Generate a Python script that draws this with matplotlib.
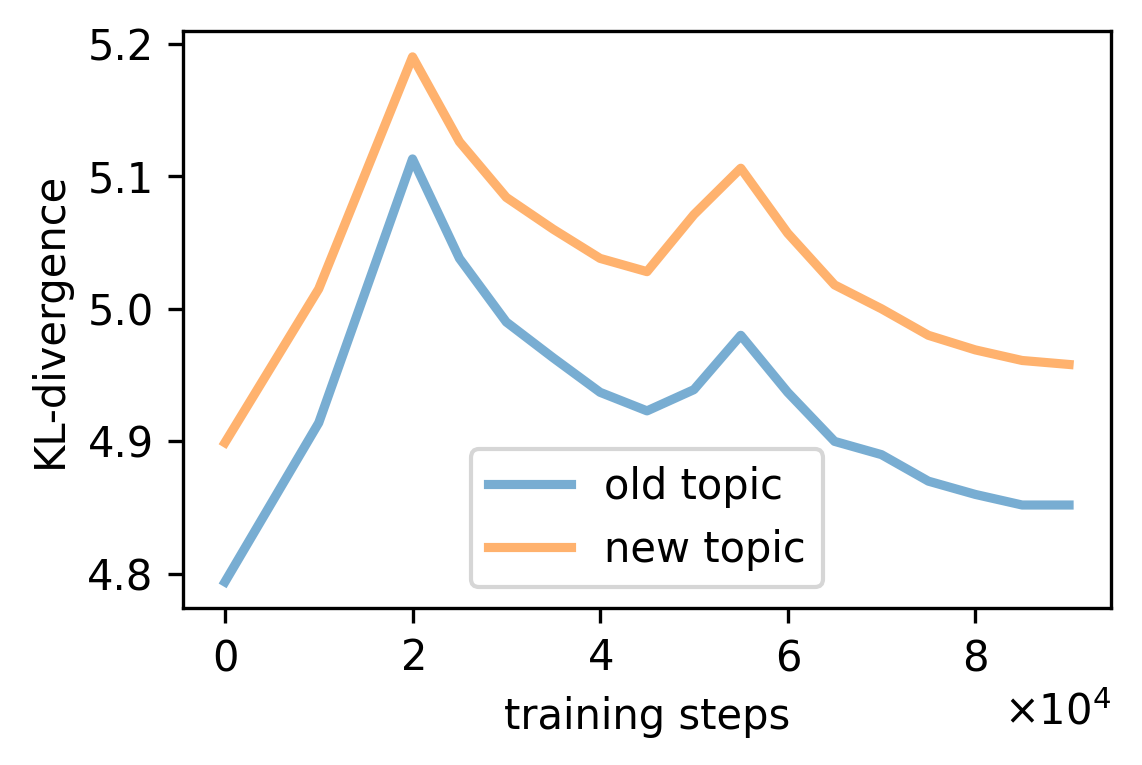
import matplotlib
matplotlib.use("Agg")
import matplotlib.pyplot as plt
import matplotlib.ticker as mticker

steps = [0, 10000, 20000, 25000, 30000, 35000, 40000, 45000, 50000, 55000,
         60000, 65000, 70000, 75000, 80000, 85000, 90000]
old_topic = [4.794, 4.914, 5.113, 5.038, 4.990, 4.963, 4.937, 4.923, 4.939, 4.980,
             4.937, 4.900, 4.890, 4.870, 4.860, 4.852, 4.852]
new_topic = [4.899, 5.015, 5.190, 5.126, 5.084, 5.060, 5.038, 5.028, 5.071, 5.106,
             5.057, 5.018, 5.000, 4.980, 4.969, 4.961, 4.958]

fig, ax = plt.subplots(figsize=(3.807, 2.55), dpi=300)
ax.plot(steps, old_topic, color="tab:blue", alpha=0.6, lw=2.2, label="old topic")
ax.plot(steps, new_topic, color="tab:orange", alpha=0.6, lw=2.2, label="new topic")
ax.set_xlabel("training steps")
ax.set_ylabel("KL-divergence")
fmt = mticker.ScalarFormatter(useMathText=True)
fmt.set_powerlimits((0, 0))
ax.xaxis.set_major_formatter(fmt)
ax.set_yticks([4.8, 4.9, 5.0, 5.1, 5.2])
ax.legend(loc="lower center")
fig.subplots_adjust(left=0.16, right=0.973, top=0.96, bottom=0.205)
fig.savefig("out.png", dpi=300)
